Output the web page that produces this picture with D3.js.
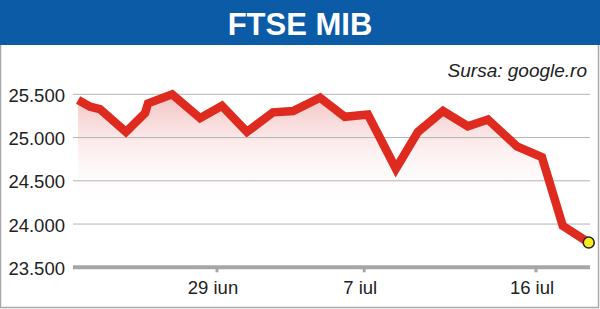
<!DOCTYPE html>
<html>
<head>
<meta charset="utf-8">
<script src="https://cdn.jsdelivr.net/npm/d3@7"></script>
<style>
  body { margin: 0; background: #fff; }
  svg { display: block; font-family: "Liberation Sans", Arial, sans-serif; }
</style>
</head>
<body>
<div id="chart"></div>
<script>
// trading-day position, counted from 29 iun (= 0)
const days = [-5.66, -5.17, -4.77, -3.71, -2.93, -2.81, -1.83, -0.69, 0.20, 1.22, 2.28, 3.10,
              4.20, 5.21, 6.15, 7.29, 8.19, 9.21, 10.22, 11.04, 12.22, 13.24, 14.09, 15.15];
const values = [25434, 25356, 25329, 25065, 25283, 25395, 25500, 25224, 25367, 25065, 25291, 25306,
                25461, 25240, 25267, 24640, 25065, 25306, 25131, 25209, 24899, 24774, 23980, 23786];
const yTicks = [23500, 24000, 24500, 25000, 25500];
const xTicks = [0, 6, 13];
const xLabels = ["29 iun", "7 iul", "16 iul"];

const width = 600, height = 309;
const svg = d3.select("#chart").append("svg")
    .attr("width", width)
    .attr("height", height);

const x = d3.scaleLinear().domain([0, 13]).range([217, 536]);
const y = d3.scaleLinear().domain([23500, 25500]).range([267.3, 94.3]);
const left = 73, right = 590;

const fmt = d3.format(",");
const label = v => fmt(v).replace(/,/g, ".");

// frame
svg.append("rect")
    .attr("x", 0.5).attr("y", 0.5)
    .attr("width", width - 2).attr("height", height - 2)
    .attr("fill", "#fff").attr("stroke", "#a8a8a8").attr("stroke-width", 1.5);

// title bar
svg.append("rect")
    .attr("x", 0).attr("y", 0).attr("width", width).attr("height", 45)
    .attr("fill", "#0b5ba6");
svg.append("text")
    .attr("x", width / 2).attr("y", 35)
    .attr("text-anchor", "middle")
    .attr("fill", "#fff")
    .attr("font-weight", "bold")
    .attr("font-size", 31)
    .text("FTSE MIB");

svg.append("text")
    .attr("x", 587).attr("y", 77)
    .attr("text-anchor", "end")
    .attr("fill", "#222")
    .attr("font-style", "italic")
    .attr("font-size", 19)
    .text("Sursa: google.ro");

// gradient under the line
const defs = svg.append("defs");
const grad = defs.append("linearGradient")
    .attr("id", "fade")
    .attr("gradientUnits", "userSpaceOnUse")
    .attr("x1", 0).attr("x2", 0)
    .attr("y1", y(25500)).attr("y2", y(24200));
grad.append("stop").attr("offset", 0).attr("stop-color", "#f4c0c0");
grad.append("stop").attr("offset", 1).attr("stop-color", "#fff").attr("stop-opacity", 0);

const data = days.map((d, i) => [d, values[i]]);

svg.append("path")
    .datum(data)
    .attr("fill", "url(#fade)")
    .attr("d", d3.area().x(d => x(d[0])).y0(y(23500)).y1(d => y(d[1])));

// grid
svg.append("g")
  .selectAll("line")
  .data(yTicks.slice(1))
  .join("line")
    .attr("x1", left).attr("x2", right)
    .attr("y1", d => y(d)).attr("y2", d => y(d))
    .attr("stroke", "#b4b4b4").attr("stroke-width", 1);

svg.append("g")
    .attr("font-size", 18.5)
    .attr("fill", "#222")
  .selectAll("text")
  .data(yTicks)
  .join("text")
    .attr("x", 65).attr("y", d => y(d) + 7.5)
    .attr("text-anchor", "end")
    .text(label);

// x axis
svg.append("line")
    .attr("x1", left).attr("x2", right)
    .attr("y1", y(23500)).attr("y2", y(23500))
    .attr("stroke", "#a6a6a6").attr("stroke-width", 4);

svg.append("g")
  .selectAll("line")
  .data(xTicks)
  .join("line")
    .attr("x1", d => x(d)).attr("x2", d => x(d))
    .attr("y1", y(23500)).attr("y2", y(23500) + 5)
    .attr("stroke", "#a6a6a6").attr("stroke-width", 3);

svg.append("g")
    .attr("font-size", 18.5)
    .attr("fill", "#222")
  .selectAll("text")
  .data(xTicks)
  .join("text")
    .attr("x", d => x(d) - 4).attr("y", 294)
    .attr("text-anchor", "middle")
    .text((d, i) => xLabels[i]);

// the line
svg.append("path")
    .datum(data)
    .attr("fill", "none")
    .attr("stroke", "#de2a1f")
    .attr("stroke-width", 8.5)
    .attr("stroke-linejoin", "miter")
    .attr("d", d3.line().x(d => x(d[0])).y(d => y(d[1])));

const last = data[data.length - 1];
svg.append("circle")
    .attr("cx", x(last[0])).attr("cy", y(last[1]))
    .attr("r", 5.5)
    .attr("fill", "#f7ec1c")
    .attr("stroke", "#222").attr("stroke-width", 1.5);
</script>
</body>
</html>
